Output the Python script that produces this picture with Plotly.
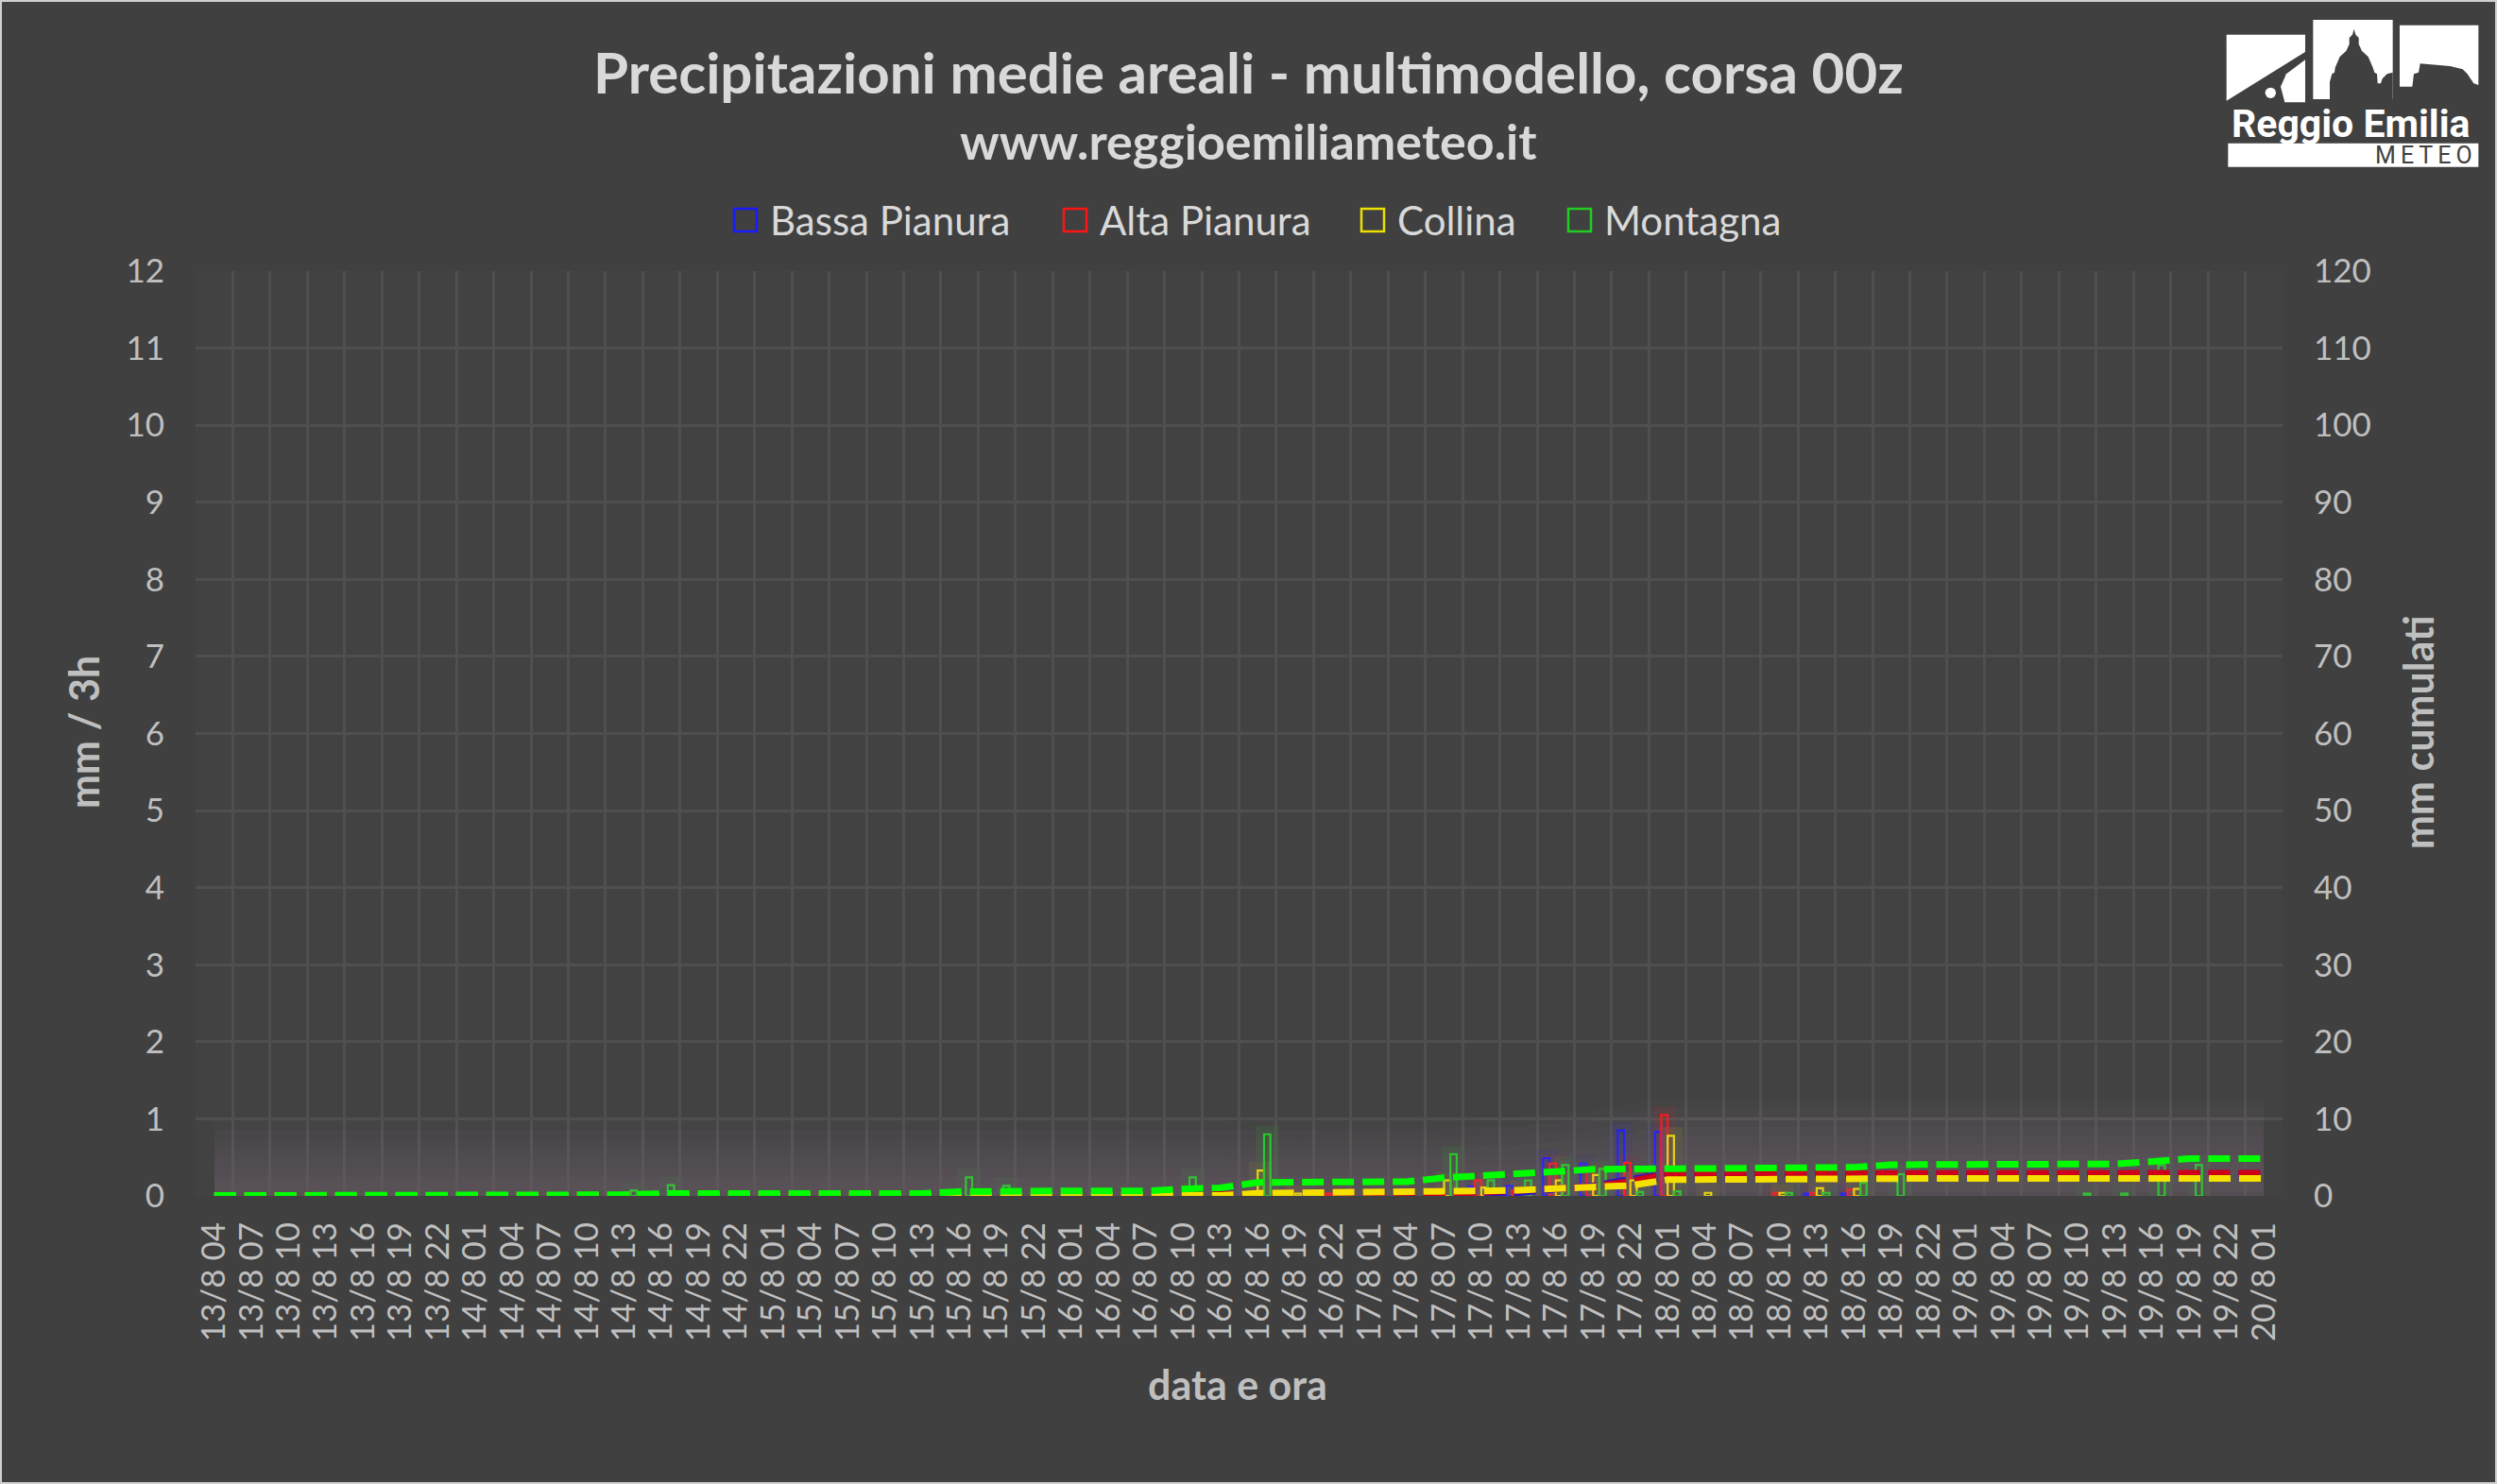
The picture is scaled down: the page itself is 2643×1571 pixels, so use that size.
import plotly.graph_objects as go

# ---------------- data ----------------
categories = [
    "13/8 04", "13/8 07", "13/8 10", "13/8 13", "13/8 16", "13/8 19", "13/8 22",
    "14/8 01", "14/8 04", "14/8 07", "14/8 10", "14/8 13", "14/8 16", "14/8 19", "14/8 22",
    "15/8 01", "15/8 04", "15/8 07", "15/8 10", "15/8 13", "15/8 16", "15/8 19", "15/8 22",
    "16/8 01", "16/8 04", "16/8 07", "16/8 10", "16/8 13", "16/8 16", "16/8 19", "16/8 22",
    "17/8 01", "17/8 04", "17/8 07", "17/8 10", "17/8 13", "17/8 16", "17/8 19", "17/8 22",
    "18/8 01", "18/8 04", "18/8 07", "18/8 10", "18/8 13", "18/8 16", "18/8 19", "18/8 22",
    "19/8 01", "19/8 04", "19/8 07", "19/8 10", "19/8 13", "19/8 16", "19/8 19", "19/8 22",
    "20/8 01",
]

series_names = ["Bassa Pianura", "Alta Pianura", "Collina", "Montagna"]

# mm / 3h (bars)
bassa_3h = [
    0, 0, 0, 0, 0, 0, 0,
    0, 0, 0, 0, 0, 0, 0, 0,
    0, 0, 0, 0, 0, 0, 0, 0,
    0, 0, 0, 0, 0, 0.03, 0, 0,
    0, 0, 0, 0.12, 0.13, 0.49, 0.42, 0.85,
    0.83, 0, 0, 0, 0.03, 0.03, 0, 0,
    0, 0, 0, 0, 0, 0, 0, 0,
    0,
]
alta_3h = [
    0, 0, 0, 0, 0, 0, 0,
    0, 0, 0, 0, 0, 0, 0, 0,
    0, 0, 0, 0, 0, 0, 0, 0,
    0, 0, 0, 0, 0, 0.05, 0.02, 0.03,
    0, 0, 0.03, 0.20, 0.07, 0.42, 0.32, 0.43,
    1.05, 0, 0, 0.04, 0.04, 0.08, 0, 0,
    0, 0, 0, 0, 0, 0, 0, 0,
    0,
]
collina_3h = [
    0, 0, 0, 0, 0, 0, 0,
    0, 0, 0, 0, 0, 0, 0, 0,
    0, 0, 0, 0, 0, 0, 0, 0,
    0, 0, 0, 0, 0, 0.33, 0.03, 0,
    0, 0, 0.20, 0.11, 0.10, 0.20, 0.27, 0.20,
    0.78, 0.04, 0, 0.04, 0.10, 0.09, 0, 0,
    0, 0, 0, 0, 0, 0, 0, 0,
    0,
]
montagna_3h = [
    0, 0, 0, 0, 0, 0, 0,
    0, 0, 0, 0, 0.07, 0.14, 0, 0,
    0, 0, 0, 0, 0, 0.24, 0.13, 0,
    0, 0, 0, 0.24, 0, 0.80, 0, 0,
    0, 0, 0.54, 0.20, 0.20, 0.40, 0.35, 0.05,
    0.06, 0, 0, 0.04, 0.04, 0.17, 0.28, 0,
    0, 0, 0, 0.03, 0.03, 0.40, 0.40, 0,
    0,
]

# mm cumulati (dashed lines, right axis)
bassa_cum = [
    0.01, 0.01, 0.01, 0.01, 0.01, 0.01, 0.01,
    0.01, 0.01, 0.01, 0.01, 0.01, 0.01, 0.01, 0.01,
    0.02, 0.02, 0.02, 0.02, 0.02, 0.02, 0.02, 0.02,
    0.02, 0.02, 0.02, 0.02, 0.02, 0.05, 0.05, 0.05,
    0.05, 0.05, 0.07, 0.25, 0.40, 0.90, 1.30, 2.15,
    2.85, 2.85, 2.85, 2.85, 2.88, 2.90, 2.90, 2.90,
    2.90, 2.90, 2.90, 2.90, 2.90, 2.90, 2.90, 2.90,
    2.90,
]
alta_cum = [
    0.01, 0.01, 0.01, 0.01, 0.01, 0.01, 0.01,
    0.01, 0.01, 0.01, 0.01, 0.01, 0.02, 0.02, 0.02,
    0.02, 0.02, 0.02, 0.02, 0.02, 0.03, 0.03, 0.03,
    0.03, 0.03, 0.03, 0.03, 0.03, 0.10, 0.15, 0.20,
    0.20, 0.20, 0.25, 0.45, 0.55, 0.95, 1.20, 1.90,
    2.85, 2.86, 2.86, 2.90, 2.93, 2.95, 2.95, 2.95,
    2.95, 2.95, 2.95, 2.95, 2.95, 2.95, 2.95, 2.95,
    2.95,
]
collina_cum = [
    0.02, 0.02, 0.02, 0.02, 0.02, 0.02, 0.02,
    0.02, 0.02, 0.02, 0.02, 0.02, 0.03, 0.03, 0.03,
    0.03, 0.03, 0.03, 0.03, 0.04, 0.04, 0.05, 0.05,
    0.05, 0.05, 0.05, 0.05, 0.05, 0.35, 0.38, 0.38,
    0.38, 0.38, 0.55, 0.65, 0.75, 0.95, 1.15, 1.35,
    2.10, 2.15, 2.15, 2.18, 2.22, 2.27, 2.27, 2.27,
    2.27, 2.27, 2.27, 2.27, 2.27, 2.27, 2.27, 2.27,
    2.27,
]
montagna_cum = [
    0.05, 0.05, 0.05, 0.05, 0.05, 0.05, 0.05,
    0.05, 0.05, 0.05, 0.05, 0.15, 0.30, 0.30, 0.30,
    0.30, 0.30, 0.30, 0.30, 0.30, 0.55, 0.65, 0.65,
    0.65, 0.65, 0.65, 0.90, 1.05, 1.75, 1.80, 1.80,
    1.80, 1.85, 2.35, 2.55, 2.80, 3.15, 3.45, 3.50,
    3.50, 3.50, 3.50, 3.50, 3.55, 3.70, 4.05, 4.10,
    4.10, 4.10, 4.10, 4.10, 4.15, 4.45, 4.85, 4.85,
    4.85,
]

bars_3h = [bassa_3h, alta_3h, collina_3h, montagna_3h]
cums = [bassa_cum, alta_cum, collina_cum, montagna_cum]

y_ticks_left = list(range(0, 13))
y_ticks_right = list(range(0, 121, 10))

# ---------------- styles ----------------
W, H = 2643, 1571
ML, MR, MT, MB = 207, 227, 287, 305
PW = W - ML - MR
PH = H - MT - MB

BG = "#404040"
PLOT_BG = "#424242"
GRID = "#4f4f4f"
TICK = "#bfbfbf"
TITLE = "#d9d9d9"
FONT = "Lato"

bar_colors = ["#1a1aff", "#ff1414", "#ece000", "#22cc22"]
bar_rgb = [(30, 30, 255), (255, 20, 20), (236, 224, 0), (34, 204, 34)]
line_colors = ["#2a14c8", "#d0001a", "#f5e100", "#00ff00"]
glow_rgb = [(160, 140, 235), (230, 140, 130), (210, 200, 130), (140, 210, 140)]
glow_alpha = [0.010, 0.010, 0.005, 0.004]
glow_widths = [160, 140, 120, 100, 80, 60, 40, 24]


def px_x(px):
    return (px - ML) / PW


def px_y(py):
    return (H - MB - py) / PH


def rgba(c, a):
    return "rgba(%d,%d,%d,%.4f)" % (c[0], c[1], c[2], a)


fig = go.Figure()

# bar glows
for name, vals, c in zip(series_names, bars_3h, bar_rgb):
    fig.add_trace(go.Bar(
        x=categories, y=[v if v > 0 else None for v in vals],
        offsetgroup=name, showlegend=False, hoverinfo="skip",
        marker=dict(color=rgba(c, 0.05), line=dict(color=rgba(c, 0.09), width=18)),
    ))
# bars (outline only)
for name, vals, col in zip(series_names, bars_3h, bar_colors):
    fig.add_trace(go.Bar(
        x=categories, y=[v if v > 0 else None for v in vals], name=name,
        offsetgroup=name, showlegend=False,
        marker=dict(color="rgba(0,0,0,0)", line=dict(color=col, width=2.2)),
    ))

# line glows (soft haze)
for vals, c, a in zip(cums, glow_rgb, glow_alpha):
    for wdt in glow_widths:
        fig.add_trace(go.Scatter(
            x=categories, y=vals, yaxis="y2", mode="lines", showlegend=False,
            hoverinfo="skip", line=dict(color=rgba(c, a), width=wdt, shape="spline"),
        ))
# cumulative dashed lines
for name, vals, col in zip(series_names, cums, line_colors):
    fig.add_trace(go.Scatter(
        x=categories, y=vals, yaxis="y2", mode="lines", name=name + " cumulati",
        showlegend=False, line=dict(color=col, width=7, dash="23px,9px"),
    ))

annotations = []
shapes = []

# titles
annotations.append(dict(x=px_x(1321), y=px_y(76), xref="paper", yref="paper",
                        text="<b>Precipitazioni medie areali - multimodello, corsa 00z</b>",
                        showarrow=False, font=dict(family=FONT, size=60, color=TITLE),
                        xanchor="center", yanchor="middle"))
annotations.append(dict(x=px_x(1321), y=px_y(149), xref="paper", yref="paper",
                        text="<b>www.reggioemiliameteo.it</b>",
                        showarrow=False, font=dict(family=FONT, size=52, color=TITLE),
                        xanchor="center", yanchor="middle"))

# axis titles
annotations.append(dict(x=px_x(88), y=px_y(775), xref="paper", yref="paper",
                        text="<b>mm / 3h</b>", textangle=-90, showarrow=False,
                        font=dict(family=FONT, size=43, color=TICK),
                        xanchor="center", yanchor="middle"))
annotations.append(dict(x=px_x(2559), y=px_y(775), xref="paper", yref="paper",
                        text="<b>mm cumulati</b>", textangle=-90, showarrow=False,
                        font=dict(family=FONT, size=43, color=TICK),
                        xanchor="center", yanchor="middle"))
annotations.append(dict(x=px_x(1310), y=px_y(1465), xref="paper", yref="paper",
                        text="<b>data e ora</b>", showarrow=False,
                        font=dict(family=FONT, size=43, color=TICK),
                        xanchor="center", yanchor="middle"))

# manual legend
legend_x = [789, 1138, 1453, 1672]
for name, col, lx in zip(series_names, bar_colors, legend_x):
    shapes.append(dict(type="rect", xref="paper", yref="paper",
                       x0=px_x(lx - 12), x1=px_x(lx + 12), y0=px_y(233 + 12), y1=px_y(233 - 12),
                       line=dict(color=col, width=2.5), fillcolor="rgba(0,0,0,0)"))
    annotations.append(dict(x=px_x(lx + 24), y=px_y(233), xref="paper", yref="paper",
                            text=name, showarrow=False, xanchor="left", yanchor="middle",
                            font=dict(family=FONT, size=42, color=TITLE)))

# outer border
shapes.append(dict(type="rect", xref="paper", yref="paper",
                   x0=px_x(1), x1=px_x(W - 1), y0=px_y(H - 1), y1=px_y(1),
                   line=dict(color="#d0d0d0", width=2), fillcolor="rgba(0,0,0,0)", layer="below"))


# logo (zoom-space coordinates -> pixel -> paper)
def lz(zx, zy):
    return px_x(2340 + zx / 3.0), px_y(10 + zy / 3.0)


def lpath(pts):
    s = ""
    for i, (zx, zy) in enumerate(pts):
        x, y = lz(zx, zy)
        s += ("M" if i == 0 else "L") + "%.5f,%.5f " % (x, y)
    return s + "Z"


WHITE = "#ffffff"
logo_white = [
    [(50, 80), (300, 80), (300, 135), (50, 290)],
    [(300, 160), (300, 295), (235, 295), (222, 245), (240, 205)],
    [(325, 33), (578, 33), (578, 285), (325, 285)],
    [(600, 50), (850, 50), (850, 240), (835, 235), (815, 205), (800, 190), (760, 180),
     (665, 172), (660, 200), (645, 205), (640, 245), (600, 245)],
]
for pts in logo_white:
    shapes.append(dict(type="path", xref="paper", yref="paper", path=lpath(pts),
                       fillcolor=WHITE, line=dict(width=0)))
dome = [(378, 285), (378, 230), (385, 205), (393, 200), (395, 185), (410, 150), (430, 132),
        (440, 110), (440, 90), (450, 80), (455, 62), (460, 80), (470, 90), (470, 110),
        (480, 132), (500, 150), (515, 185), (520, 200), (528, 205), (530, 235), (540, 235),
        (545, 220), (560, 205), (578, 200), (578, 285)]
shapes.append(dict(type="path", xref="paper", yref="paper", path=lpath(dome),
                   fillcolor=BG, line=dict(width=0)))
cx, cy = lz(190, 265)
rx = 17 / 3.0 / PW
ry = 17 / 3.0 / PH
shapes.append(dict(type="circle", xref="paper", yref="paper",
                   x0=cx - rx, x1=cx + rx, y0=cy - ry, y1=cy + ry,
                   fillcolor=WHITE, line=dict(width=0)))
bx0, by0 = lz(55, 500)
bx1, by1 = lz(850, 425)
shapes.append(dict(type="rect", xref="paper", yref="paper", x0=bx0, x1=bx1, y0=by0, y1=by1,
                   fillcolor=WHITE, line=dict(width=0)))
tx, ty = lz(445, 362)
annotations.append(dict(x=tx, y=ty, xref="paper", yref="paper", text="<b>Reggio Emilia</b>",
                        showarrow=False, xanchor="center", yanchor="middle",
                        font=dict(family="Roboto", size=41, color=WHITE)))
mx, my = lz(675, 462)
annotations.append(dict(x=mx, y=my, xref="paper", yref="paper",
                        text="M\u2009E\u2009T\u2009E\u2009O",
                        showarrow=False, xanchor="center", yanchor="middle",
                        font=dict(family="Roboto", size=25, color=BG)))

fig.update_layout(
    width=W, height=H, autosize=False,
    margin=dict(l=ML, r=MR, t=MT, b=MB, pad=0),
    paper_bgcolor=BG, plot_bgcolor=PLOT_BG,
    barmode="group", bargap=0.32, bargroupgap=0,
    showlegend=False,
    font=dict(family=FONT, color=TICK),
    xaxis=dict(
        type="category", tickson="boundaries", showgrid=True, gridcolor=GRID, gridwidth=2.5,
        tickmode="array", tickvals=categories, ticktext=categories,
        tickangle=-90, tickfont=dict(family=FONT, size=35, color=TICK), ticks="",
        ticklabelstandoff=20, showline=False, zeroline=False, fixedrange=True,
    ),
    yaxis=dict(
        range=[0, 12], tickvals=y_ticks_left, showgrid=True, gridcolor=GRID, gridwidth=2.5,
        tickfont=dict(family=FONT, size=35, color=TICK), ticks="", ticklabelstandoff=32,
        zeroline=False, showline=False,
    ),
    yaxis2=dict(
        range=[0, 120], tickvals=y_ticks_right, overlaying="y", side="right", showgrid=False,
        tickfont=dict(family=FONT, size=35, color=TICK), ticks="", ticklabelstandoff=32,
        zeroline=False, showline=False,
    ),
    annotations=annotations,
    shapes=shapes,
)

fig.write_html(
    "out.html",
    config={"displayModeBar": False},
    post_script="document.body.style.margin='0px';document.body.style.overflow='hidden';",
)
